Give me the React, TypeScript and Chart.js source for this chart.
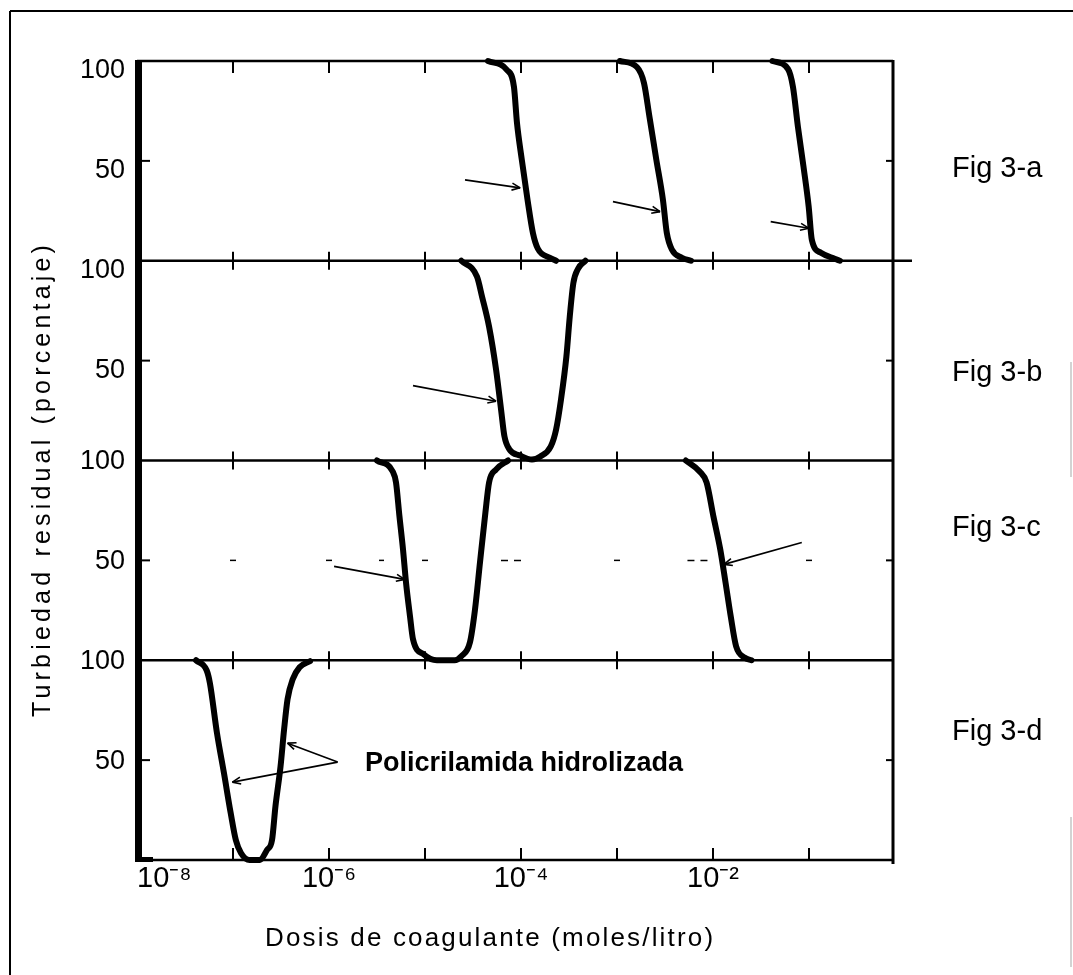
import React, { useEffect, useRef } from 'react';
import { Chart, registerables } from 'chart.js';

Chart.register(...registerables);

const FONT = "'Liberation Sans', Arial, Helvetica, sans-serif";

// ---- axes ----
const X_MIN = 1e-8;
const X_MAX = 0.75;
const X_TICKS = [1e-8, 1e-7, 1e-6, 1e-5, 1e-4, 1e-3, 1e-2, 1e-1];
const X_TICK_LABELS = ['10⁻⁸', '', '10⁻⁶', '', '10⁻⁴', '', '10⁻²', ''];
const Y_TICKS = [50, 100];
const Y_MIN = 0;
const Y_MAX = 100;

const PANEL_IDS = ['yA', 'yB', 'yC', 'yD'];
const PANEL_LABELS = ['Fig 3-a', 'Fig 3-b', 'Fig 3-c', 'Fig 3-d'];
const PANEL_LABEL_LEVEL = [46, 44, 66, 64];
const PANEL_TICK_LABEL_SHIFT = [10, 10, 1, 1];

const X_TITLE = 'Dosis de coagulante (moles/litro)';
const Y_TITLE = 'Turbiedad residual (porcentaje)';
const NOTE_TEXT = 'Policrilamida hidrolizada';
const NOTE_X = 2.37e-6;
const NOTE_Y = 48.5;

// ---- Fig 3-a : three descending curves ----
const A1_X = [4.53e-5, 7.14e-5, 8.45e-5, 9.08e-5, 1.02e-4, 1.17e-4, 1.33e-4, 1.5e-4, 2.0e-4, 2.32e-4];
const A1_Y = [100, 95.5, 87, 69, 50.5, 30.5, 14, 6, 1.5, 0];
const A2_X = [1.07e-3, 1.61e-3, 1.91e-3, 2.18e-3, 2.57e-3, 3.01e-3, 3.3e-3, 3.74e-3, 4.75e-3, 5.9e-3];
const A2_Y = [100, 97, 89, 72, 50.5, 30.5, 14, 5.5, 1.5, 0];
const A3_X = [4.16e-2, 6.04e-2, 6.81e-2, 7.67e-2, 8.77e-2, 9.93e-2, 0.107, 0.133, 0.185, 0.21];
const A3_Y = [100, 96, 87, 67, 47, 27, 10.5, 4, 1, 0];

// ---- Fig 3-b : one U-shaped curve ----
const B_X = [2.39e-5, 3.48e-5, 3.93e-5, 4.65e-5, 5.5e-5, 6.2e-5, 6.73e-5, 7.6e-5, 9.77e-5, 1.3e-4, 1.59e-4, 2.04e-4, 2.32e-4, 2.61e-4, 2.97e-4, 3.22e-4, 3.51e-4, 3.93e-4, 4.69e-4];
const B_Y = [100, 92, 82, 67, 45.5, 25.5, 12, 5.5, 2.5, 0.5, 2, 7, 15.5, 30.5, 52, 72, 88.8, 96, 100];

// ---- Fig 3-c : U-shaped curve + descending curve ----
const C1_X = [3.16e-6, 4.61e-6, 4.99e-6, 5.42e-6, 5.9e-6, 6.34e-6, 6.98e-6, 7.5e-6, 9.66e-6, 1.33e-5, 2.03e-5, 2.39e-5, 2.94e-5, 3.32e-5, 3.74e-5, 4.26e-5, 4.65e-5, 5.5e-5, 7.33e-5];
const C1_Y = [100, 94.5, 89, 72, 55.5, 39, 22, 10.5, 3, 0, 0, 2, 9, 25.5, 49, 74, 89, 95.5, 100];
const C2_X = [5.21e-3, 7.26e-3, 8.57e-3, 1.01e-2, 1.19e-2, 1.35e-2, 1.53e-2, 1.74e-2, 2.14e-2, 2.52e-2];
const C2_Y = [100, 94.5, 89, 72, 55.5, 39, 22, 7, 1.3, 0];
// faint dashed remnants of the 50 % line in Fig 3-c
const C_DASH_X = [1e-7, 1e-6, 1e-5, 1e-3, 1e-1];
const C_DASH_FROM = [3.32e-6, 6.19e-5, 5.42e-3];
const C_DASH_TO = [3.74e-6, 1.05e-4, 1.01e-2];

// ---- Fig 3-d : narrow U-shaped curve ----
const D_X = [4.12e-8, 5.31e-8, 5.75e-8, 6.81e-8, 8.05e-8, 9.46e-8, 1.07e-7, 1.21e-7, 1.49e-7, 1.91e-7, 2.26e-7, 2.55e-7, 2.77e-7, 3.13e-7, 3.4e-7, 3.7e-7, 4.19e-7, 4.94e-7, 6.34e-7];
const D_Y = [100, 95, 88.5, 63.5, 43.5, 23.5, 10, 3.5, 0, 0, 5, 10, 27, 47, 65, 80.5, 90.5, 96.5, 99.5];

const SERIES = [
  { axis: 'yA', xs: A1_X, ys: A1_Y },
  { axis: 'yA', xs: A2_X, ys: A2_Y },
  { axis: 'yA', xs: A3_X, ys: A3_Y },
  { axis: 'yB', xs: B_X, ys: B_Y },
  { axis: 'yC', xs: C1_X, ys: C1_Y },
  { axis: 'yC', xs: C2_X, ys: C2_Y },
  { axis: 'yD', xs: D_X, ys: D_Y },
];

// arrows (data coordinates of tail and head)
const ARROWS = [
  { panel: 'yA', x0: 2.61e-5, y0: 40.5, x1: 9.8e-5, y1: 36.5 },
  { panel: 'yA', x0: 9.08e-4, y0: 29.6, x1: 2.81e-3, y1: 24.6 },
  { panel: 'yA', x0: 3.99e-2, y0: 19.6, x1: 9.93e-2, y1: 16.3 },
  { panel: 'yB', x0: 7.5e-6, y0: 37.5, x1: 5.5e-5, y1: 29.7 },
  { panel: 'yC', x0: 1.13e-6, y0: 47, x1: 6.13e-6, y1: 40.5 },
  { panel: 'yC', x0: 8.41e-2, y0: 59, x1: 1.3e-2, y1: 48 },
  { panel: 'yD', x0: 1.23e-6, y0: 49, x1: 3.7e-7, y1: 58.5 },
  { panel: 'yD', x0: 1.23e-6, y0: 49, x1: 9.86e-8, y1: 39 },
];

function spacedText(ctx: any, text: string, x: number, y: number, width: number) {
  ctx.letterSpacing = '0px';
  const w0 = ctx.measureText(text).width;
  const sp = Math.max(0, (width - w0) / (text.length - 1));
  if ('letterSpacing' in ctx) ctx.letterSpacing = sp.toFixed(2) + 'px';
  ctx.fillText(text, x, y);
  if ('letterSpacing' in ctx) ctx.letterSpacing = '0px';
}

const decor = {
  id: 'decor',
  afterDraw(chart: any) {
    const { ctx, chartArea: a, scales } = chart;
    const xs = scales.x;
    const panels = PANEL_IDS.map((id) => scales[id]);
    ctx.save();
    ctx.strokeStyle = '#000';
    ctx.fillStyle = '#000';
    ctx.lineCap = 'butt';
    const seg = (x0: number, y0: number, x1: number, y1: number, w: number) => {
      ctx.lineWidth = w;
      ctx.beginPath();
      ctx.moveTo(x0, y0);
      ctx.lineTo(x1, y1);
      ctx.stroke();
    };

    // outer frame of the figure
    seg(10, 11, chart.width, 11, 2);
    seg(10, 11, 10, chart.height, 2);
    ctx.strokeStyle = '#c4c4c4';
    seg(chart.width - 2, 362, chart.width - 2, 477, 1.5);
    seg(chart.width - 2, 817, chart.width - 2, 967, 1.5);
    ctx.strokeStyle = '#000';

    // panel borders
    const edges = [panels[0].top, ...panels.map((p: any) => p.bottom)];
    edges.forEach((y: number) => seg(a.left, y, a.right, y, 2.5));
    seg(a.right, edges[1], a.right + 19, edges[1], 2.5);
    ctx.fillRect(a.left - 2, a.top - 1, 7, a.bottom - a.top + 2);
    ctx.fillRect(a.left - 2, a.bottom - 3, 18, 5);
    seg(a.right, a.top - 1, a.right, a.bottom + 4, 3);

    // x ticks on each panel edge
    X_TICKS.forEach((v) => {
      if (v <= X_MIN) return;
      const px = xs.getPixelForValue(v);
      edges.forEach((y: number, i: number) => {
        if (i === 0) seg(px, y, px, y + 12, 2);
        else if (i === edges.length - 1) seg(px, y - 12, px, y, 2);
        else seg(px, y - 9, px, y + 9, 2);
      });
    });
    // y ticks at 50
    panels.forEach((p: any) => {
      const py = p.getPixelForValue(Y_TICKS[0]);
      seg(a.left, py, a.left + 13, py, 2);
      seg(a.right - 7, py, a.right, py, 2);
    });
    // faint dashes on the 50 line of panel c
    const y50 = scales.yC.getPixelForValue(50);
    C_DASH_X.forEach((v) => {
      const px = xs.getPixelForValue(v);
      seg(px - 3, y50, px + 3, y50, 1.5);
    });
    ctx.setLineDash([7, 6]);
    C_DASH_FROM.forEach((v, i) => {
      seg(xs.getPixelForValue(v), y50, xs.getPixelForValue(C_DASH_TO[i]), y50, 1.5);
    });
    ctx.setLineDash([]);

    // arrows
    ARROWS.forEach((ar) => {
      const ys = scales[ar.panel];
      const x0 = xs.getPixelForValue(ar.x0);
      const y0 = ys.getPixelForValue(ar.y0);
      const x1 = xs.getPixelForValue(ar.x1);
      const y1 = ys.getPixelForValue(ar.y1);
      seg(x0, y0, x1, y1, 1.6);
      const ang = Math.atan2(y1 - y0, x1 - x0);
      const L = 9;
      const s = 0.4;
      seg(x1, y1, x1 - L * Math.cos(ang - s), y1 - L * Math.sin(ang - s), 1.6);
      seg(x1, y1, x1 - L * Math.cos(ang + s), y1 - L * Math.sin(ang + s), 1.6);
    });

    // panel labels
    ctx.font = `29px ${FONT}`;
    ctx.textAlign = 'left';
    ctx.textBaseline = 'middle';
    panels.forEach((p: any, i: number) => {
      ctx.fillText(PANEL_LABELS[i], a.right + 59, p.getPixelForValue(PANEL_LABEL_LEVEL[i]));
    });

    // annotation
    ctx.font = `bold 27px ${FONT}`;
    ctx.fillText(NOTE_TEXT, xs.getPixelForValue(NOTE_X), scales.yD.getPixelForValue(NOTE_Y));

    // x title
    ctx.font = `26px ${FONT}`;
    ctx.textBaseline = 'alphabetic';
    spacedText(ctx, X_TITLE, a.left + 128, a.bottom + 86, 448);

    // y title
    ctx.save();
    ctx.translate(a.left - 87, a.top + 656);
    ctx.rotate(-Math.PI / 2);
    ctx.font = `25px ${FONT}`;
    ctx.textAlign = 'left';
    ctx.textBaseline = 'alphabetic';
    spacedText(ctx, Y_TITLE, 0, 0, 472);
    ctx.restore();

    ctx.restore();
  },
};

function yAxis(i: number) {
  return {
    type: 'linear',
    position: 'left',
    stack: 'panels',
    stackWeight: 1,
    weight: 4 - i,
    min: Y_MIN,
    max: Y_MAX,
    grid: { display: false, drawTicks: false },
    border: { display: false },
    afterBuildTicks: (s: any) => {
      s.ticks = Y_TICKS.map((v) => ({ value: v }));
    },
    afterFit: (s: any) => {
      s.width = 80;
    },
    ticks: {
      callback: (v: any) => String(v),
      font: { family: FONT, size: 27 },
      color: '#000',
      padding: 12,
      labelOffset: PANEL_TICK_LABEL_SHIFT[i],
      autoSkip: false,
    },
  };
}

export default function App() {
  const ref = useRef<HTMLCanvasElement>(null);
  useEffect(() => {
    const scales: any = {
      x: {
        type: 'logarithmic',
        position: 'bottom',
        min: X_MIN,
        max: X_MAX,
        grid: { display: false, drawTicks: false },
        border: { display: false },
        afterBuildTicks: (s: any) => {
          s.ticks = X_TICKS.map((v) => ({ value: v }));
        },
        afterFit: (s: any) => {
          s.height = 60;
        },
        ticks: {
          callback: (_v: any, idx: number) => X_TICK_LABELS[idx],
          font: { family: FONT, size: 29 },
          color: '#000',
          padding: 2,
          align: 'inner',
          maxRotation: 0,
          autoSkip: false,
        },
      },
    };
    PANEL_IDS.forEach((id, i) => {
      scales[id] = yAxis(i);
    });
    const chart = new Chart(ref.current as HTMLCanvasElement, {
      type: 'line',
      data: {
        datasets: SERIES.map((s) => ({
          data: s.xs.map((x, k) => ({ x, y: s.ys[k] })),
          yAxisID: s.axis,
          xAxisID: 'x',
          borderColor: '#000',
          borderWidth: 6,
          pointRadius: 0,
          fill: false,
          cubicInterpolationMode: 'monotone',
          borderCapStyle: 'round',
          borderJoinStyle: 'round',
          clip: false,
        })),
      },
      options: {
        animation: false,
        responsive: false,
        events: [],
        layout: { padding: { left: 57, right: 180, top: 61, bottom: 55 } },
        plugins: { legend: { display: false }, tooltip: { enabled: false }, title: { display: false } },
        scales,
      },
      plugins: [decor],
    } as any);
    return () => chart.destroy();
  }, []);
  return (
    <div style={{ position: 'absolute', left: 0, top: 0, width: 1073, height: 975, background: '#fff' }}>
      <canvas ref={ref} width={1073} height={975} style={{ display: 'block', width: 1073, height: 975 }} />
    </div>
  );
}
